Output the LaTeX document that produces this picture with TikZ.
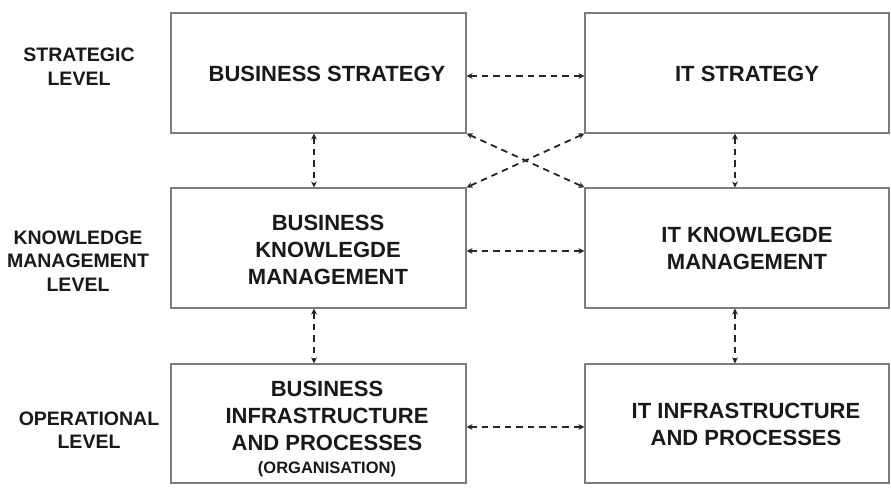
\documentclass[tikz,border=0pt]{standalone}
\usepackage{fontspec}
\setmainfont{Liberation Sans}
\usetikzlibrary{arrows.meta}
\definecolor{boxgray}{RGB}{125,125,125}
\begin{document}
\begin{tikzpicture}[x=1pt,y=-1pt,
  box/.style={draw=boxgray, line width=1.2pt, rectangle, inner sep=0pt,
    minimum width=#1, minimum height=120pt},
  boxtext/.style={align=center, inner sep=0pt, text=black!90,
    font=\bfseries\fontsize{22}{27}\selectfont},
  lvl/.style={align=center, inner sep=0pt, text=black!90,
    font=\bfseries\fontsize{19.5}{23.5}\selectfont},
  link/.style={draw=black!85, line width=1.8pt, dash pattern=on 6.5pt off 5pt,
    {Stealth[length=6pt,width=6pt]}-{Stealth[length=6pt,width=6pt]}}]
\useasboundingbox (0,0) rectangle (891,487);
% boxes
\node[box=295pt] (bs)  at (318.5,73) {};
\node[box=304pt] (its) at (737,73) {};
\node[box=295pt] (bk)  at (318.5,248) {};
\node[box=304pt] (itk) at (737,248) {};
\node[box=295pt, minimum height=119pt] (bi)  at (318.5,423.5) {};
\node[box=304pt, minimum height=119pt] (iti) at (737,423.5) {};
% box texts
\node[boxtext] (tbs)  at (327,74) {BUSINESS STRATEGY};
\node[boxtext] (tits) at (747,74) {IT STRATEGY};
\node[boxtext] (tbk)  at (328,249.5) {BUSINESS\\KNOWLEGDE\\MANAGEMENT};
\node[boxtext] (titk) at (747,248.5) {IT KNOWLEGDE\\MANAGEMENT};
\node[boxtext] (tbi)  at (327,429) {BUSINESS\\INFRASTRUCTURE\\AND PROCESSES\\[-4pt]{\fontsize{16.5}{20}\selectfont (ORGANISATION)}};
\node[boxtext] (titi) at (746,424.5) {IT INFRASTRUCTURE\\AND PROCESSES};
% level labels
\node[lvl] (l1) at (79,66.5) {STRATEGIC\\LEVEL};
\node[lvl] (l2) at (78,261) {KNOWLEDGE\\MANAGEMENT\\LEVEL};
\node[lvl] (l3) at (89,430) {OPERATIONAL\\LEVEL};
% connectors
\draw[link] ([yshift=-3pt]bs.east) -- ([yshift=-3pt]its.west);
\draw[link] ([yshift=-3pt]bk.east) -- ([yshift=-3pt]itk.west);
\draw[link] ([yshift=-3.5pt]bi.east) -- ([yshift=-3.5pt]iti.west);
\draw[link] ([xshift=-4.5pt]bs.south) -- ([xshift=-4.5pt]bk.north);
\draw[link] ([xshift=-4.5pt]bk.south) -- ([xshift=-4.5pt]bi.north);
\draw[link] ([xshift=-2pt]its.south) -- ([xshift=-2pt]itk.north);
\draw[link] ([xshift=-2pt]itk.south) -- ([xshift=-2pt]iti.north);
\draw[link] (bs.south east) -- (itk.north west);
\draw[link] (its.south west) -- (bk.north east);
\end{tikzpicture}
\end{document}
